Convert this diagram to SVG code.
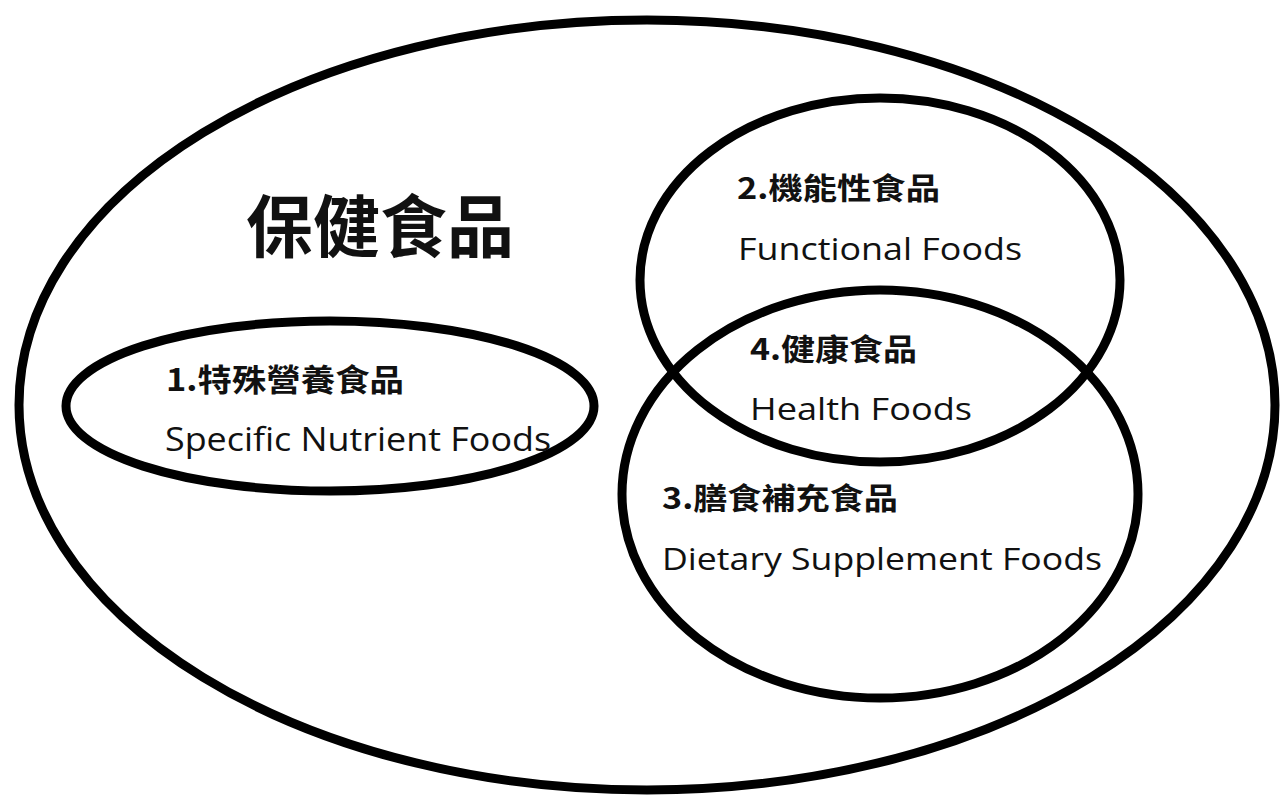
<svg xmlns="http://www.w3.org/2000/svg" width="1280" height="804" viewBox="0 0 1280 804">
<style>
.set{fill:none;stroke:#000;stroke-width:9}
.zh{font-family:"Noto Sans CJK TC","Noto Sans CJK SC",sans-serif;fill:#111;font-weight:700}
.en{font-family:"Open Sans","Liberation Sans",sans-serif;fill:#111}
</style>
<rect width="1280" height="804" fill="#fff"/>
<g id="health-food-all">
<ellipse class="set" cx="647" cy="405" rx="628" ry="385"/>
<text class="zh" x="246" y="252" font-size="68" textLength="268" lengthAdjust="spacingAndGlyphs">保健食品</text>
</g>
<g id="specific-nutrient">
<ellipse class="set" cx="330" cy="406" rx="264" ry="85"/>
<text class="zh" x="166" y="391" font-size="31" textLength="238" lengthAdjust="spacingAndGlyphs">1.特殊營養食品</text>
<text class="en" x="165" y="451" font-size="33" textLength="386" lengthAdjust="spacingAndGlyphs">Specific Nutrient Foods</text>
</g>
<g id="functional">
<ellipse class="set" cx="880" cy="280" rx="240" ry="182"/>
<text class="zh" x="737" y="199" font-size="30" textLength="203" lengthAdjust="spacingAndGlyphs">2.機能性食品</text>
<text class="en" x="738" y="260" font-size="31" textLength="284" lengthAdjust="spacingAndGlyphs">Functional Foods</text>
</g>
<g id="dietary-supplement">
<ellipse class="set" cx="880" cy="494" rx="258" ry="204"/>
<text class="zh" x="662" y="509" font-size="30" textLength="236" lengthAdjust="spacingAndGlyphs">3.膳食補充食品</text>
<text class="en" x="662" y="570" font-size="31" textLength="440" lengthAdjust="spacingAndGlyphs">Dietary Supplement Foods</text>
</g>
<g id="health-foods">
<text class="zh" x="750" y="360" font-size="30" textLength="167" lengthAdjust="spacingAndGlyphs">4.健康食品</text>
<text class="en" x="750" y="420" font-size="31" textLength="222" lengthAdjust="spacingAndGlyphs">Health Foods</text>
</g>
<g id="connectors"></g>
</svg>
